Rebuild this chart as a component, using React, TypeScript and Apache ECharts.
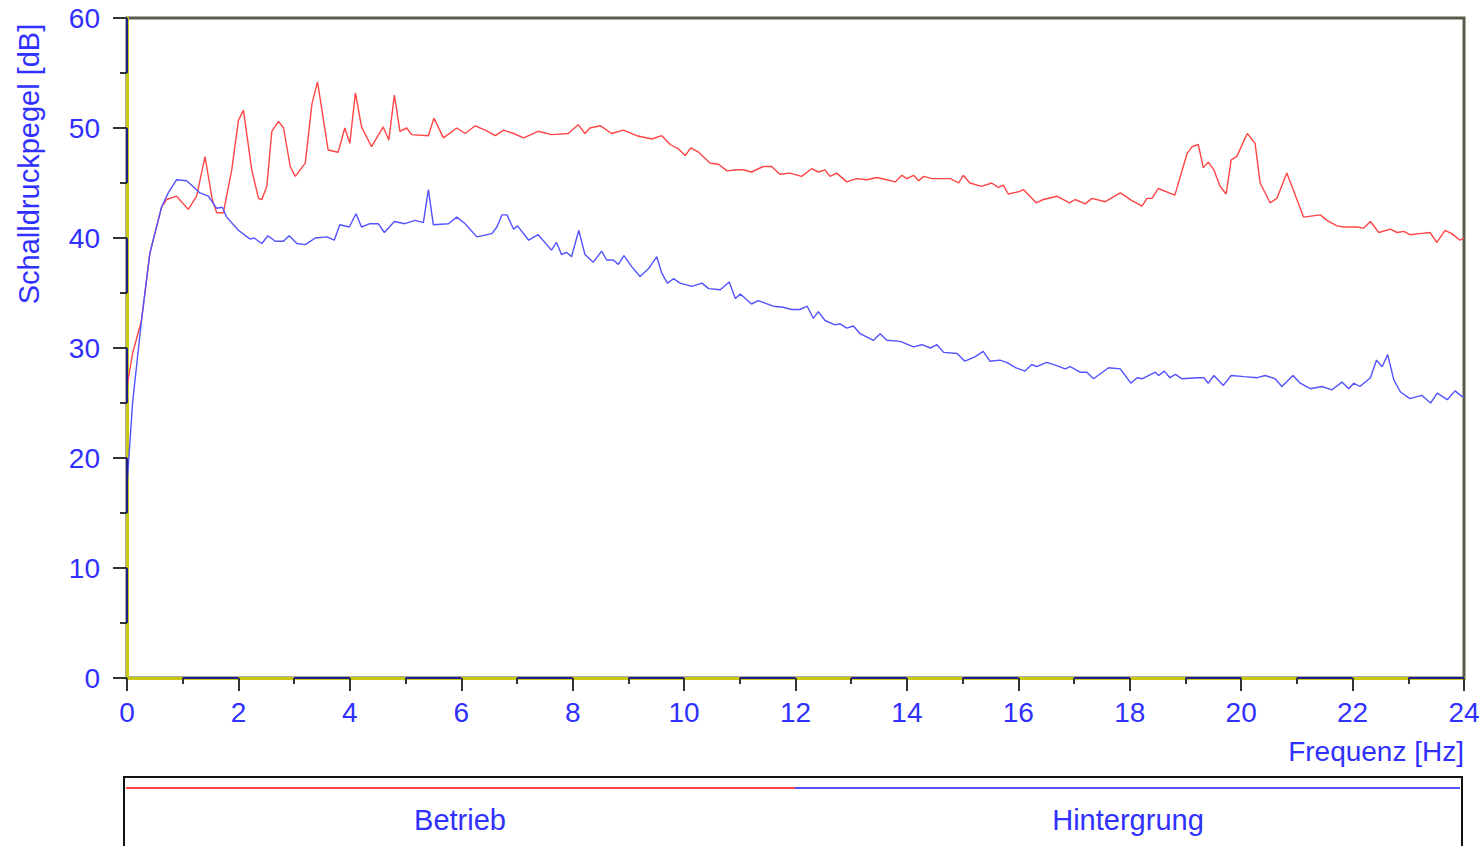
import React, { useEffect, useRef } from "react";
import * as echarts from "echarts";

const xTicks = [0, 2, 4, 6, 8, 10, 12, 14, 16, 18, 20, 22, 24];
const yTicks = [0, 10, 20, 30, 40, 50, 60];

const betriebFreq = [
  0, 0.1, 0.26, 0.41, 0.62, 0.71, 0.89, 1.1, 1.25, 1.4, 1.53, 1.61, 1.73, 1.88, 2.0, 2.09, 2.24, 2.36, 2.42, 2.51,
  2.6, 2.72, 2.81, 2.93, 3.02, 3.2, 3.32, 3.42, 3.5, 3.61, 3.79, 3.91, 4.0, 4.1, 4.21, 4.39, 4.6, 4.7, 4.8, 4.9,
  5.02, 5.11, 5.41, 5.51, 5.68, 5.92, 6.07, 6.25, 6.43, 6.61, 6.76, 6.94, 7.12, 7.38, 7.62, 7.92, 8.1, 8.22, 8.31, 8.5,
  8.7, 8.91, 9.15, 9.42, 9.6, 9.75, 9.9, 10.02, 10.12, 10.26, 10.47, 10.62, 10.77, 10.95, 11.06, 11.21, 11.42, 11.57, 11.72, 11.9,
  12.11, 12.29, 12.41, 12.53, 12.62, 12.74, 12.92, 13.1, 13.28, 13.46, 13.64, 13.79, 13.91, 14.0, 14.12, 14.21, 14.3, 14.45, 14.6, 14.78,
  14.93, 15.01, 15.13, 15.34, 15.52, 15.64, 15.73, 15.82, 16.0, 16.09, 16.32, 16.45, 16.69, 16.92, 17.02, 17.2, 17.32, 17.56, 17.83, 18.04,
  18.22, 18.31, 18.4, 18.51, 18.81, 19.03, 19.12, 19.23, 19.32, 19.41, 19.51, 19.62, 19.73, 19.82, 19.92, 20.11, 20.25, 20.34, 20.52, 20.64,
  20.82, 20.97, 21.12, 21.42, 21.54, 21.72, 21.84, 22.08, 22.2, 22.32, 22.47, 22.68, 22.8, 22.92, 23.03, 23.21, 23.39, 23.51, 23.66, 23.78,
  23.93, 24.0,
];
const betriebDb = [
  26.5, 29.5, 32.5, 38.6, 42.8, 43.5, 43.8, 42.6, 43.8, 47.4, 43.5, 42.3, 42.3, 46.2, 50.7, 51.6, 46.2, 43.6, 43.5, 44.7,
  49.7, 50.6, 50.0, 46.5, 45.6, 46.8, 52.2, 54.2, 51.6, 48.0, 47.8, 50.0, 48.6, 53.2, 50.1, 48.3, 50.1, 48.9, 53.0, 49.7,
  50.0, 49.4, 49.3, 50.9, 49.1, 50.0, 49.5, 50.2, 49.8, 49.3, 49.8, 49.5, 49.1, 49.7, 49.4, 49.5, 50.3, 49.5, 50.0, 50.2,
  49.5, 49.8, 49.3, 49.0, 49.3, 48.5, 48.1, 47.5, 48.2, 47.8, 46.8, 46.7, 46.1, 46.2, 46.2, 46.0, 46.5, 46.5, 45.8, 45.9,
  45.6, 46.3, 46.0, 46.2, 45.6, 45.9, 45.1, 45.4, 45.3, 45.5, 45.3, 45.1, 45.7, 45.4, 45.7, 45.2, 45.6, 45.4, 45.4, 45.4,
  45.0, 45.7, 45.0, 44.7, 45.0, 44.6, 44.8, 44.0, 44.2, 44.4, 43.2, 43.5, 43.8, 43.2, 43.5, 43.1, 43.6, 43.3, 44.1, 43.4,
  42.9, 43.6, 43.6, 44.5, 43.9, 47.7, 48.3, 48.5, 46.4, 46.9, 46.2, 44.7, 44.0, 47.1, 47.4, 49.5, 48.6, 45.0, 43.2, 43.6,
  45.9, 43.9, 41.9, 42.1, 41.6, 41.1, 41.0, 41.0, 40.9, 41.5, 40.5, 40.8, 40.5, 40.6, 40.3, 40.4, 40.5, 39.6, 40.7, 40.4,
  39.8, 40.0,
];

const hintergrungFreq = [
  0, 0.1, 0.26, 0.41, 0.62, 0.74, 0.89, 1.07, 1.16, 1.31, 1.46, 1.61, 1.71, 1.79, 2.0, 2.21, 2.28, 2.42, 2.53, 2.66,
  2.81, 2.91, 3.05, 3.2, 3.38, 3.59, 3.72, 3.82, 3.99, 4.11, 4.21, 4.36, 4.51, 4.62, 4.8, 4.99, 5.17, 5.32, 5.41, 5.5,
  5.77, 5.92, 6.07, 6.28, 6.55, 6.64, 6.73, 6.82, 6.94, 7.01, 7.21, 7.38, 7.62, 7.71, 7.8, 7.89, 7.98, 8.11, 8.22, 8.37,
  8.52, 8.61, 8.73, 8.82, 8.92, 9.06, 9.21, 9.36, 9.51, 9.6, 9.7, 9.81, 9.93, 10.14, 10.32, 10.44, 10.65, 10.81, 10.92, 11.01,
  11.21, 11.33, 11.6, 11.78, 11.93, 12.08, 12.21, 12.32, 12.41, 12.53, 12.71, 12.8, 12.92, 13.04, 13.16, 13.4, 13.52, 13.64, 13.88, 14.12,
  14.27, 14.42, 14.54, 14.66, 14.9, 15.04, 15.22, 15.37, 15.49, 15.67, 15.79, 15.96, 16.12, 16.24, 16.33, 16.51, 16.69, 16.84, 16.93, 17.11,
  17.23, 17.35, 17.62, 17.83, 18.02, 18.13, 18.22, 18.46, 18.52, 18.62, 18.72, 18.82, 18.94, 19.21, 19.33, 19.41, 19.51, 19.68, 19.82, 20.05,
  20.29, 20.43, 20.61, 20.73, 20.93, 21.06, 21.24, 21.45, 21.63, 21.81, 21.93, 22.02, 22.13, 22.32, 22.43, 22.53, 22.63, 22.74, 22.86, 23.03,
  23.24, 23.4, 23.52, 23.7, 23.84, 23.96, 24.0,
];
const hintergrungDb = [
  17.5, 25.0, 32.5, 38.6, 42.8, 44.1, 45.3, 45.2, 44.8, 44.1, 43.8, 42.7, 42.8, 41.9, 40.7, 39.9, 40.0, 39.5, 40.2, 39.7,
  39.7, 40.2, 39.5, 39.4, 40.0, 40.1, 39.8, 41.2, 41.0, 42.2, 41.0, 41.3, 41.3, 40.5, 41.5, 41.3, 41.6, 41.4, 44.4, 41.2,
  41.3, 41.9, 41.3, 40.1, 40.4, 41.0, 42.1, 42.1, 40.8, 41.1, 39.8, 40.3, 38.9, 39.6, 38.5, 38.7, 38.3, 40.7, 38.5, 37.8,
  38.8, 38.0, 38.0, 37.6, 38.4, 37.4, 36.5, 37.2, 38.3, 36.8, 35.9, 36.3, 35.9, 35.6, 35.9, 35.4, 35.3, 36.0, 34.5, 34.9,
  34.0, 34.3, 33.8, 33.7, 33.5, 33.5, 33.8, 32.7, 33.3, 32.5, 32.1, 32.2, 31.8, 32.0, 31.3, 30.7, 31.3, 30.7, 30.6, 30.1,
  30.3, 30.0, 30.3, 29.6, 29.5, 28.8, 29.2, 29.7, 28.8, 28.9, 28.7, 28.2, 27.9, 28.5, 28.3, 28.7, 28.4, 28.1, 28.3, 27.8,
  27.8, 27.2, 28.2, 28.1, 26.8, 27.3, 27.2, 27.8, 27.5, 27.9, 27.3, 27.6, 27.2, 27.3, 27.3, 26.8, 27.5, 26.6, 27.5, 27.4,
  27.3, 27.5, 27.2, 26.5, 27.5, 26.8, 26.3, 26.5, 26.2, 26.9, 26.3, 26.8, 26.5, 27.3, 28.9, 28.3, 29.4, 27.1, 26.0, 25.4,
  25.7, 25.0, 25.9, 25.3, 26.1, 25.6, 25.6,
];

const xAxisTitle = "Frequenz [Hz]";
const yAxisTitle = "Schalldruckpegel [dB]";
const seriesNames = ["Betrieb", "Hintergrung"];

const FONT = "'Liberation Sans', Arial, sans-serif";
const LABEL_BLUE = "#3030ff";
const RED = "#ff4545";
const BLUE = "#5252ff";
const YELLOW = "#c9c914";
const NAVY = "#20208a";

export default function App() {
  const ref = useRef<HTMLDivElement>(null);

  useEffect(() => {
    if (!ref.current) return;
    const chart = echarts.init(ref.current, null, { renderer: "svg" });

    const xSegs: any[] = [];
    for (let i = 1; i < 24; i += 2) xSegs.push([{ coord: [i, 0] }, { coord: [i + 1, 0] }]);
    const ySegs: any[] = [];
    for (let i = 5; i < 60; i += 10) ySegs.push([{ coord: [0, i] }, { coord: [0, i + 5] }]);

    const option: any = {
      animation: false,
      backgroundColor: "#ffffff",
      grid: {
        left: 127,
        top: 18,
        right: 19,
        bottom: 168,
        show: true,
        borderColor: "#5a5a4a",
        borderWidth: 3,
        backgroundColor: "transparent",
      },
      xAxis: {
        type: "value",
        min: xTicks[0],
        max: xTicks[xTicks.length - 1],
        interval: 2,
        axisLine: { show: true, onZero: false, lineStyle: { color: YELLOW, width: 3 } },
        axisTick: { show: true, length: 13, lineStyle: { color: "#333333", width: 2 } },
        minorTick: { show: true, splitNumber: 2, length: 6, lineStyle: { color: "#333333", width: 2 } },
        splitLine: { show: false },
        axisLabel: {
          color: LABEL_BLUE,
          fontSize: 28,
          fontFamily: FONT,
          margin: 20,
          showMinLabel: true,
          showMaxLabel: true,
        },
      },
      yAxis: {
        type: "value",
        min: yTicks[0],
        max: yTicks[yTicks.length - 1],
        interval: 10,
        axisLine: { show: true, onZero: false, lineStyle: { color: YELLOW, width: 3 } },
        axisTick: { show: true, length: 14, lineStyle: { color: "#333333", width: 2 } },
        minorTick: { show: true, splitNumber: 2, length: 7, lineStyle: { color: "#333333", width: 2 } },
        splitLine: { show: false },
        axisLabel: {
          color: LABEL_BLUE,
          fontSize: 28,
          fontFamily: FONT,
          margin: 27,
          showMinLabel: true,
          showMaxLabel: true,
        },
      },
      series: [
        {
          name: seriesNames[0],
          type: "line",
          data: betriebFreq.map((f, i) => [f, betriebDb[i]]),
          showSymbol: false,
          symbol: "none",
          lineStyle: { color: RED, width: 1.4 },
          z: 3,
        },
        {
          name: seriesNames[1],
          type: "line",
          data: hintergrungFreq.map((f, i) => [f, hintergrungDb[i]]),
          showSymbol: false,
          symbol: "none",
          lineStyle: { color: BLUE, width: 1.4 },
          z: 3,
        },
        {
          name: "axisDecor",
          type: "line",
          data: [],
          silent: true,
          markLine: {
            silent: true,
            symbol: "none",
            label: { show: false },
            lineStyle: { color: NAVY, width: 2, type: "solid" },
            data: [...xSegs, ...ySegs],
          },
          z: 4,
        },
      ],
      graphic: [
        {
          type: "text",
          x: 29,
          y: 164,
          rotation: Math.PI / 2,
          style: {
            text: yAxisTitle,
            fill: LABEL_BLUE,
            fontSize: 29,
            fontFamily: FONT,
            align: "center",
            verticalAlign: "middle",
          },
        },
        {
          type: "text",
          x: 1464,
          y: 751,
          style: {
            text: xAxisTitle,
            fill: LABEL_BLUE,
            fontSize: 28,
            fontFamily: FONT,
            align: "right",
            verticalAlign: "middle",
          },
        },
        {
          type: "rect",
          shape: { x: 124, y: 777, width: 1338, height: 90 },
          style: { fill: "#ffffff", stroke: "#111111", lineWidth: 2 },
        },
        {
          type: "line",
          shape: { x1: 126, y1: 788, x2: 795, y2: 788 },
          style: { stroke: RED, lineWidth: 2 },
        },
        {
          type: "line",
          shape: { x1: 795, y1: 788, x2: 1460, y2: 788 },
          style: { stroke: BLUE, lineWidth: 2 },
        },
        {
          type: "text",
          x: 460,
          y: 820,
          style: {
            text: seriesNames[0],
            fill: LABEL_BLUE,
            fontSize: 29,
            fontFamily: FONT,
            align: "center",
            verticalAlign: "middle",
          },
        },
        {
          type: "text",
          x: 1128,
          y: 820,
          style: {
            text: seriesNames[1],
            fill: LABEL_BLUE,
            fontSize: 29,
            fontFamily: FONT,
            align: "center",
            verticalAlign: "middle",
          },
        },
      ],
    };

    chart.setOption(option);
    return () => chart.dispose();
  }, []);

  return (
    <div
      ref={ref}
      style={{ position: "fixed", left: 0, top: 0, width: 1483, height: 846, background: "#fff" }}
    />
  );
}
